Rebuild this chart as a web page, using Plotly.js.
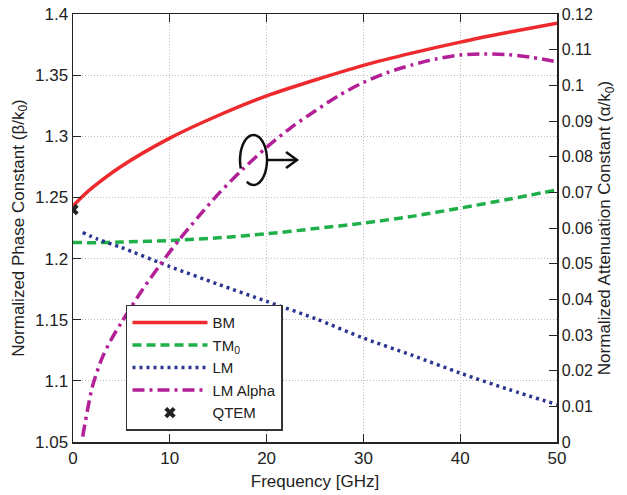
<!DOCTYPE html>
<html>
<head>
<meta charset="utf-8">
<script src="https://cdn.plot.ly/plotly-3.0.1.min.js"></script>
<style>html,body{margin:0;padding:0;background:#fff;}#chart{width:627px;height:495px;}</style>
</head>
<body>
<div id="chart"></div>
<script>
// Data
const bmFreq = [0, 1, 2, 5, 10, 15, 20, 25, 30, 35, 40, 45, 50];
const bmBeta = [1.243, 1.251, 1.258, 1.2755, 1.2985, 1.317, 1.333, 1.346, 1.358, 1.368, 1.377, 1.385, 1.3925];

const tmFreq = [0, 2.5, 5, 10, 15, 20, 25, 30, 35, 40, 45, 50];
const tmBeta = [1.2132, 1.2130, 1.2135, 1.2148, 1.217, 1.2203, 1.2245, 1.229, 1.2345, 1.2413, 1.2485, 1.2562];

const lmFreq = [1, 2.5, 5, 10, 15, 20, 25, 30, 35, 40, 45, 50];
const lmBeta = [1.2213, 1.216, 1.209, 1.1935, 1.179, 1.165, 1.151, 1.135, 1.121, 1.1064, 1.093, 1.0806];

const alphaFreq = [1, 1.5, 2, 3, 4, 5, 7, 9, 11, 13, 15, 17.5, 20, 22.5, 25, 27.5, 30, 32.5, 35, 37.5, 40, 42.5, 45, 47.5, 50];
const alphaVal = [0.0015, 0.009, 0.0155, 0.0235, 0.029, 0.0335, 0.042, 0.0497, 0.0568, 0.0633, 0.0695, 0.0764, 0.0826, 0.0881, 0.0928, 0.0972, 0.1008, 0.1036, 0.1057, 0.1074, 0.1085, 0.1088, 0.1086, 0.1078, 0.1066];

const qtemFreq = [0];
const qtemBeta = [1.24];

const xTicks = [0, 10, 20, 30, 40, 50];
const yTicks = [1.05, 1.1, 1.15, 1.2, 1.25, 1.3, 1.35, 1.4];
const y2Ticks = [0, 0.01, 0.02, 0.03, 0.04, 0.05, 0.06, 0.07, 0.08, 0.09, 0.1, 0.11, 0.12];

const FONT = 'Liberation Sans, Arial, Helvetica, sans-serif';

const traces = [
  {x: bmFreq, y: bmBeta, name: 'BM', mode: 'lines', line: {color: '#ee2a2e', width: 3.5, shape: 'spline', smoothing: 0.8}},
  {x: tmFreq, y: tmBeta, name: 'TM<sub>0</sub>', mode: 'lines', line: {color: '#1fb04a', width: 3.5, dash: '9px,5px', shape: 'spline', smoothing: 0.8}},
  {x: lmFreq, y: lmBeta, name: 'LM', mode: 'lines', line: {color: '#2b3590', width: 3.5, dash: '3px,4px', shape: 'spline', smoothing: 0.8}},
  {x: alphaFreq, y: alphaVal, name: 'LM Alpha', mode: 'lines', yaxis: 'y2', line: {color: '#b21f96', width: 3.5, dash: '12px,5px,3px,5px', shape: 'spline', smoothing: 0.8}},
  {x: qtemFreq, y: qtemBeta, name: 'QTEM', mode: 'markers', marker: {symbol: 'x', size: 10, color: '#222', line: {width: 0}}}
];

// decorative rotation arrow (paper coordinates)
function px2paper(px, py) { return [(px - 73) / 484, (442 - py) / 428]; }
let arc = '';
const cx = 253.5, cy = 160, rx = 13.5, ry = 25;
for (let i = 0; i <= 40; i++) {
  const t = (200 - i * (320 / 40)) * Math.PI / 180;
  const p = px2paper(cx + rx * Math.cos(t), cy - ry * Math.sin(t));
  arc += (i === 0 ? 'M' : 'L') + p[0].toFixed(4) + ',' + p[1].toFixed(4) + ' ';
}
const a1 = px2paper(267, 160), a2 = px2paper(297, 160);
const h1 = px2paper(286, 152), h2 = px2paper(286, 168);

const layout = {
  width: 627, height: 495,
  margin: {l: 73, r: 70, t: 14, b: 53},
  paper_bgcolor: '#fff', plot_bgcolor: '#fff',
  font: {family: FONT, size: 16, color: '#222'},
  showlegend: true,
  legend: {
    x: 0.1095, y: 0.026, xanchor: 'left', yanchor: 'bottom',
    bordercolor: '#333', borderwidth: 1.5, bgcolor: '#fff',
    font: {family: FONT, size: 15, color: '#222'},
    itemwidth: 75,
    tracegroupgap: 0
  },
  xaxis: {
    range: [0, 50], tickvals: xTicks, ticktext: xTicks.map(String),
    showgrid: true, gridcolor: '#bdbdbd', griddash: '1px,2px', gridwidth: 1,
    zeroline: false, showline: true, linecolor: '#222', linewidth: 1.5, mirror: 'ticks',
    ticks: 'inside', ticklen: 8, tickcolor: '#222',
    tickfont: {family: FONT, size: 17, color: '#222'},
    title: {text: 'Frequency [GHz]', font: {family: FONT, size: 17, color: '#222'}, standoff: 8}
  },
  yaxis: {
    range: [1.05, 1.4], tickvals: yTicks, ticktext: yTicks.map(v => String(+v.toFixed(2))),
    showgrid: true, gridcolor: '#bdbdbd', griddash: '1px,2px', gridwidth: 1,
    zeroline: false, showline: true, linecolor: '#222', linewidth: 1.5,
    ticks: 'inside', ticklen: 8, tickcolor: '#222',
    tickfont: {family: FONT, size: 17, color: '#222'},
    title: {text: 'Normalized Phase Constant (β/k<sub>0</sub>)', font: {family: FONT, size: 17, color: '#222'}, standoff: 6}
  },
  yaxis2: {
    overlaying: 'y', side: 'right',
    range: [0, 0.12], tickvals: y2Ticks, ticktext: y2Ticks.map(v => String(+v.toFixed(2))),
    showgrid: false, zeroline: false, showline: true, linecolor: '#222', linewidth: 1.5,
    ticks: 'inside', ticklen: 8, tickcolor: '#222',
    tickfont: {family: FONT, size: 16, color: '#222'},
    title: {text: 'Normalized Attenuation Constant (α/k<sub>0</sub>)', font: {family: FONT, size: 17, color: '#222'}, standoff: 6}
  },
  shapes: [
    {type: 'path', xref: 'paper', yref: 'paper', path: arc, line: {color: '#111', width: 2.5}},
    {type: 'line', xref: 'paper', yref: 'paper', x0: a1[0], y0: a1[1], x1: a2[0], y1: a2[1], line: {color: '#111', width: 2.5}},
    {type: 'path', xref: 'paper', yref: 'paper',
     path: 'M' + h1[0] + ',' + h1[1] + ' L' + a2[0] + ',' + a2[1] + ' L' + h2[0] + ',' + h2[1],
     line: {color: '#111', width: 2.5}}
  ]
};

Plotly.newPlot('chart', traces, layout, {displayModeBar: false, staticPlot: true});
</script>
</body>
</html>
